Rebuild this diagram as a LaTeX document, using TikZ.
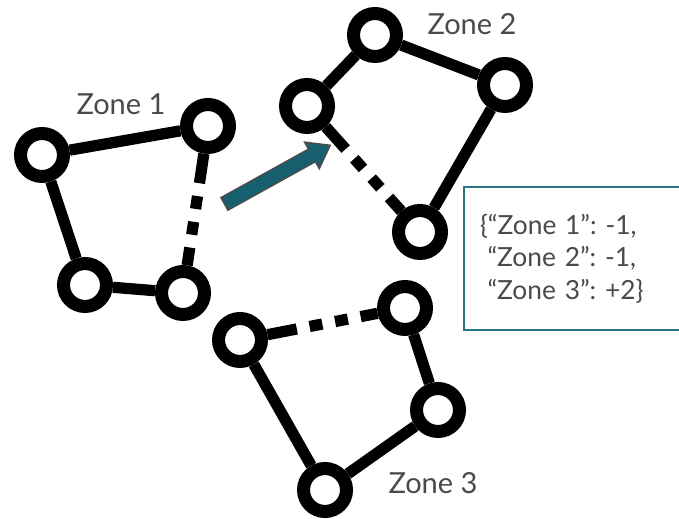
\documentclass[tikz,border=0pt]{standalone}
\usepackage{fontspec}
\setmainfont{Lato}
\frenchspacing
\usetikzlibrary{shapes.arrows,backgrounds}
\definecolor{zonegray}{HTML}{4A4A4A}
\definecolor{moveteal}{HTML}{165F6E}
\definecolor{boxteal}{HTML}{2A7584}
\begin{document}
\begin{tikzpicture}[x=0.02cm, y=-0.02cm,
  ring/.style={circle, draw, fill=white, line width=7.4pt, minimum size=0.86cm, inner sep=0pt},
  link/.style={line width=6.4pt},
  broken/.style={line width=6.4pt, dash pattern=on 17pt off 7.4pt on 7.4pt off 7.4pt on 7.4pt off 7.4pt on 40pt},
  zone/.style={text=zonegray, font=\fontsize{16.5}{20}\selectfont}]
  \useasboundingbox (0,0) rectangle (679,519);
  % ゾーン1
  \node[ring] (a1) at (42,155) {};
  \node[ring] (b1) at (208,126) {};
  \node[ring] (c1) at (85,285) {};
  \node[ring] (d1) at (183,293) {};
  \node[zone] (z1) at (121,104) {Zone 1};
  % ゾーン2
  \node[ring] (a2) at (375,35) {};
  \node[ring] (b2) at (505,85) {};
  \node[ring] (c2) at (307,106) {};
  \node[ring] (d2) at (420,232) {};
  \node[zone] (z2) at (472,24) {Zone 2};
  % ゾーン3
  \node[ring] (a3) at (405,308) {};
  \node[ring] (b3) at (240,340) {};
  \node[ring] (c3) at (438,410) {};
  \node[ring] (d3) at (325,490) {};
  \node[zone] (z3) at (433,483) {Zone 3};
  % 辺（実線と破線）
  \begin{scope}[on background layer]
    \draw[link] (a1) -- (b1);
    \draw[link] (a1) -- (c1);
    \draw[link] (c1) -- (d1);
    \draw[broken] (b1) -- (d1);
    \draw[link] (a2) -- (b2);
    \draw[link] (a2) -- (c2);
    \draw[link] (b2) -- (d2);
    \draw[broken] (c2) -- (d2);
    \draw[link] (a3) -- (c3);
    \draw[link] (c3) -- (d3);
    \draw[link] (b3) -- (d3);
    \draw[broken] (b3) -- (a3);
  \end{scope}
  % 移動の矢印
  \node[single arrow, fill=moveteal, draw=black!70, line width=0.8pt,
        minimum height=2.42cm, inner sep=0.13cm, single arrow head extend=0.16cm,
        single arrow tip angle=72, rotate=29] (move) at (273,177) {};
  % スコアの枠
  \begin{scope}
    \clip (0,0) rectangle (679,519);
    \node[draw=boxteal, line width=1.2pt, anchor=north west, minimum width=4.6cm,
          minimum height=2.86cm, text width=4.0cm, inner xsep=0.32cm, align=left,
          text=zonegray, font=\fontsize{15}{18.4}\selectfont] (scores) at (463,186)
      {\{“Zone 1”: -1,\\\hspace*{0.15cm}“Zone 2”: -1,\\\hspace*{0.15cm}“Zone 3”: +2\}};
  \end{scope}
\end{tikzpicture}
\end{document}
